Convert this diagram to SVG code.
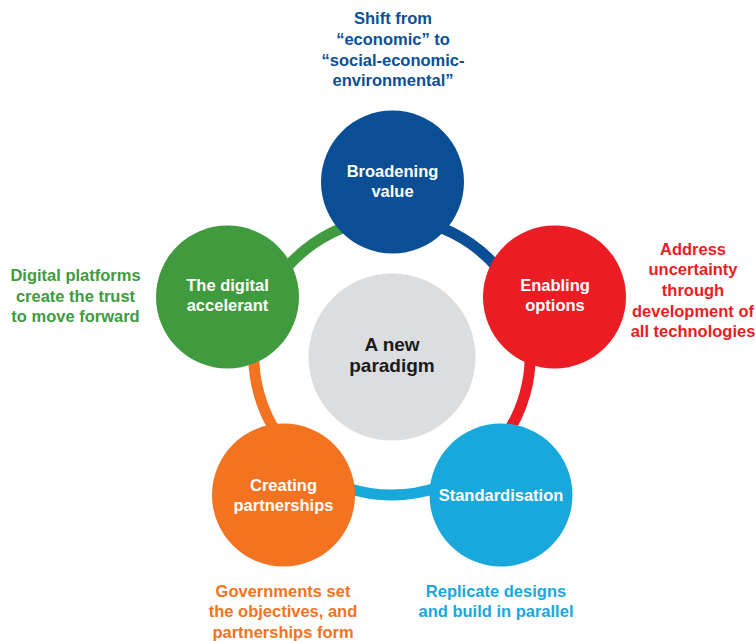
<svg xmlns="http://www.w3.org/2000/svg" width="756" height="641" viewBox="0 0 756 641">
<style>
text{font-family:"Liberation Sans",Arial,sans-serif;font-weight:bold;text-anchor:middle;font-size:16.5px}
text.big{font-size:19px;fill:#1a1a1a}
.w{fill:#ffffff}
.ring{fill:none;stroke-width:11}
.c-blue{fill:#0a4f96}.s-blue{stroke:#0a4f96}
.c-red{fill:#ec1c24}.s-red{stroke:#ec1c24}
.c-lb{fill:#19a8dc}.s-lb{stroke:#19a8dc}
.c-or{fill:#f37321}.s-or{stroke:#f37321}
.c-gr{fill:#409b3e}.s-gr{stroke:#409b3e}
</style>
<rect width="756" height="641" fill="#ffffff"/>
<g id="connectors">
<path class="ring s-blue" d="M392,219 A138,138 0 0 1 521.43,309.13"/>
<path class="ring s-red" d="M521.43,309.13 A138,138 0 0 1 477.53,465.3"/>
<path class="ring s-lb" d="M477.53,465.3 A138,138 0 0 1 306.66,465.45"/>
<path class="ring s-or" d="M306.66,465.45 A138,138 0 0 1 262.32,309.8"/>
<path class="ring s-gr" d="M262.32,309.8 A138,138 0 0 1 392,219"/>
</g>
<g id="center">
<circle cx="392" cy="357" r="83.5" fill="#dcdddf"/>
<text class="big" x="392" y="351">A new</text>
<text class="big" x="392" y="372">paradigm</text>
</g>
<g id="broadening">
<circle class="c-blue" cx="392.5" cy="182" r="71.5"/>
<text class="w" x="392.5" y="177">Broadening</text>
<text class="w" x="392.5" y="197">value</text>
</g>
<g id="enabling">
<circle class="c-red" cx="554.5" cy="297" r="71.5"/>
<text class="w" x="555" y="291">Enabling</text>
<text class="w" x="555" y="311">options</text>
</g>
<g id="standardisation">
<circle class="c-lb" cx="501" cy="495" r="71.5"/>
<text class="w" x="501" y="501">Standardisation</text>
</g>
<g id="creating">
<circle class="c-or" cx="283.5" cy="495" r="71.5"/>
<text class="w" x="283.5" y="491">Creating</text>
<text class="w" x="283.5" y="511">partnerships</text>
</g>
<g id="digital">
<circle class="c-gr" cx="227.5" cy="297" r="71.5"/>
<text class="w" x="227.5" y="291">The digital</text>
<text class="w" x="227.5" y="311">accelerant</text>
</g>
<g id="label-top" class="c-blue">
<text x="393" y="24">Shift from</text>
<text x="393" y="45">“economic” to</text>
<text x="393" y="66">“social-economic-</text>
<text x="393" y="86">environmental”</text>
</g>
<g id="label-right" class="c-red">
<text x="693" y="255">Address</text>
<text x="693" y="275">uncertainty</text>
<text x="693" y="296">through</text>
<text x="693" y="317">development of</text>
<text x="693" y="337">all technologies</text>
</g>
<g id="label-left" class="c-gr">
<text x="75.5" y="281">Digital platforms</text>
<text x="75.5" y="302">create the trust</text>
<text x="75.5" y="322">to move forward</text>
</g>
<g id="label-bottom-left" class="c-or">
<text x="283" y="597">Governments set</text>
<text x="283" y="617">the objectives, and</text>
<text x="283" y="638">partnerships form</text>
</g>
<g id="label-bottom-right" class="c-lb">
<text x="496" y="597">Replicate designs</text>
<text x="496" y="617">and build in parallel</text>
</g>
</svg>
